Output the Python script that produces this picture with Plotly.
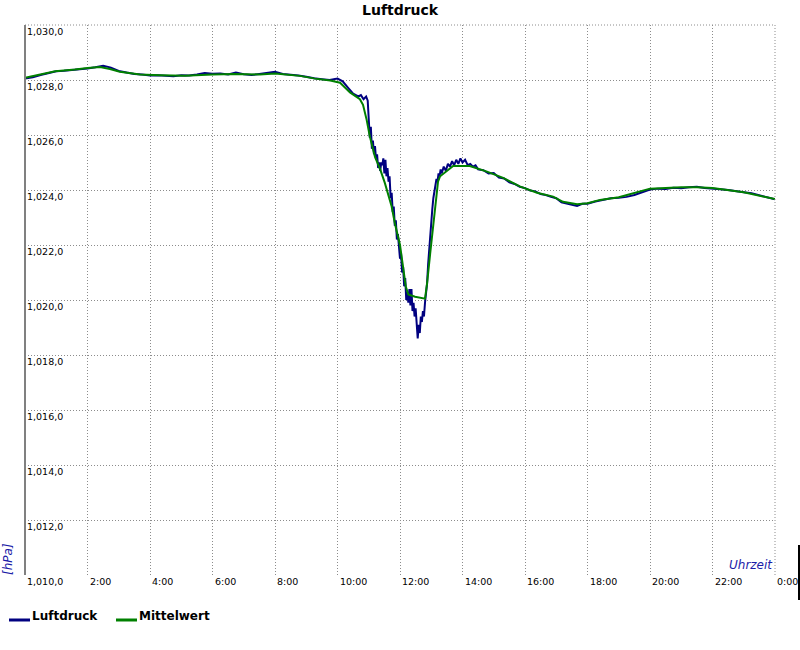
import plotly.graph_objects as go

# ---------------- data ----------------
luft_zeit = [
    "0:00", "0:15", "0:30", "0:45", "1:00", "1:15", "1:30", "1:45", "2:00", "2:15",
    "2:30", "2:45", "3:00", "3:15", "3:30", "3:45", "4:00", "4:15", "4:30", "4:45",
    "5:00", "5:15", "5:30", "5:45", "6:00", "6:15", "6:30", "6:45", "7:00", "7:15",
    "7:30", "7:45", "8:00", "8:15", "8:30", "8:45", "9:00", "9:15", "9:30", "9:45",
    "10:00", "10:10", "10:20", "10:30", "10:40", "10:45", "10:50", "10:55", "10:58",
    "11:00", "11:02", "11:04", "11:06", "11:08", "11:10", "11:12", "11:14", "11:16",
    "11:18", "11:20", "11:22", "11:24", "11:26", "11:28", "11:30", "11:32", "11:34",
    "11:36", "11:38", "11:40", "11:42", "11:44", "11:46", "11:48", "11:50", "11:52",
    "11:54", "11:56", "11:58", "12:00", "12:02", "12:04", "12:06", "12:08", "12:10",
    "12:12", "12:14", "12:16", "12:18", "12:20", "12:22", "12:24", "12:26", "12:28",
    "12:30", "12:32", "12:34", "12:36", "12:38", "12:40", "12:42", "12:44", "12:46",
    "12:48", "12:50", "12:52", "12:54", "12:56", "12:58", "13:00", "13:02", "13:04",
    "13:06", "13:08", "13:10", "13:12", "13:14", "13:16", "13:18", "13:20", "13:24",
    "13:28", "13:32", "13:36", "13:40", "13:44", "13:48", "13:52", "13:56", "14:00",
    "14:05", "14:10", "14:15", "14:20", "14:25", "14:30", "14:40", "14:50", "15:00",
    "15:10", "15:20", "15:30", "15:40", "15:50", "16:00", "16:10", "16:20", "16:30",
    "16:40", "16:50", "17:00", "17:10", "17:20", "17:30", "17:40", "17:50", "18:00",
    "18:15", "18:30", "18:45", "19:00", "19:15", "19:30", "19:45", "20:00", "20:15",
    "20:30", "20:45", "21:00", "21:15", "21:30", "21:45", "22:00", "22:15", "22:30",
    "22:45", "23:00", "23:15", "23:30", "23:45", "24:00",
]
luft_wert = [
    1028.05, 1028.10, 1028.18, 1028.26, 1028.32, 1028.34, 1028.36, 1028.38, 1028.42, 1028.46,
    1028.52, 1028.45, 1028.33, 1028.27, 1028.22, 1028.20, 1028.16, 1028.17, 1028.15, 1028.14,
    1028.17, 1028.16, 1028.20, 1028.25, 1028.23, 1028.24, 1028.20, 1028.27, 1028.21, 1028.18,
    1028.22, 1028.25, 1028.30, 1028.22, 1028.20, 1028.16, 1028.12, 1028.06, 1028.03, 1028.00,
    1028.05, 1027.95, 1027.72, 1027.50, 1027.40, 1027.45, 1027.30, 1027.40, 1027.25,
    1026.20, 1025.90, 1026.30, 1025.50, 1025.80, 1025.30, 1025.60, 1025.10, 1025.30,
    1024.80, 1025.00, 1024.70, 1025.00, 1024.90, 1025.15, 1024.60, 1025.10, 1024.50,
    1024.80, 1024.30, 1024.50, 1023.70, 1023.90, 1023.20, 1023.40, 1022.70, 1022.90,
    1022.20, 1022.40, 1021.80, 1021.50, 1021.70, 1021.00, 1021.20, 1020.50, 1020.80,
    1020.00, 1020.30, 1019.90, 1020.40, 1019.80, 1020.40, 1019.60, 1019.90, 1019.40,
    1019.70, 1019.00, 1018.60, 1019.10, 1018.80, 1019.40, 1019.20, 1019.60, 1019.40,
    1019.90, 1020.20, 1020.60, 1021.30, 1021.90, 1022.40, 1022.80, 1023.30, 1023.70,
    1024.00, 1024.20, 1024.40, 1024.30, 1024.60, 1024.50, 1024.75, 1024.60, 1024.85,
    1024.70, 1024.95, 1024.85, 1025.05, 1024.90, 1025.10, 1024.95, 1025.15, 1025.00,
    1025.10, 1024.90, 1024.95, 1024.85, 1024.90, 1024.75, 1024.72, 1024.60, 1024.62,
    1024.45, 1024.42, 1024.28, 1024.22, 1024.12, 1024.07, 1023.98, 1023.95, 1023.85,
    1023.82, 1023.75, 1023.70, 1023.55, 1023.50, 1023.45, 1023.42, 1023.50, 1023.50,
    1023.58, 1023.64, 1023.70, 1023.72, 1023.75, 1023.82, 1023.92, 1024.02, 1024.05,
    1024.04, 1024.08, 1024.06, 1024.10, 1024.12, 1024.07, 1024.06, 1024.03, 1024.00,
    1023.95, 1023.92, 1023.88, 1023.80, 1023.73, 1023.66,
]

mittel_zeit = [
    "0:00", "0:29", "0:58", "1:36", "2:00", "2:24", "2:43", "3:02", "3:41", "4:19",
    "5:07", "6:00", "6:43", "7:31", "8:00", "8:48", "9:17", "9:46", "10:05", "10:24",
    "10:43", "10:49", "10:56", "11:02", "11:12", "11:22", "11:31", "11:44", "11:50",
    "12:00", "12:06", "12:11", "12:16", "12:29", "12:48", "12:52", "12:58", "13:04",
    "13:09", "13:13", "13:17", "13:42", "14:14", "14:47", "15:18", "15:50", "16:23",
    "16:54", "17:13", "17:40", "18:00", "18:24", "19:00", "20:00", "21:00", "21:30",
    "22:00", "23:00", "24:00",
]
mittel_wert = [
    1028.08, 1028.20, 1028.32, 1028.38, 1028.44, 1028.47, 1028.40, 1028.30, 1028.20, 1028.17,
    1028.15, 1028.20, 1028.22, 1028.20, 1028.24, 1028.15, 1028.05, 1027.98, 1027.90, 1027.55,
    1027.30, 1027.10, 1026.55, 1025.95, 1025.20, 1024.75, 1024.25, 1023.40, 1022.80,
    1022.00, 1021.20, 1020.50, 1020.20, 1020.12, 1020.05, 1020.60, 1021.70, 1022.80,
    1023.60, 1024.30, 1024.50, 1024.87, 1024.87, 1024.67, 1024.44, 1024.13, 1023.90,
    1023.76, 1023.57, 1023.48, 1023.52, 1023.64, 1023.74, 1024.05, 1024.10, 1024.10,
    1024.07, 1023.92, 1023.67,
]

x_tick_werte = [2, 4, 6, 8, 10, 12, 14, 16, 18, 20, 22, 24]
x_tick_texte = ["2:00", "4:00", "6:00", "8:00", "10:00", "12:00", "14:00", "16:00",
                "18:00", "20:00", "22:00", "0:00"]
y_tick_werte = [1010, 1012, 1014, 1016, 1018, 1020, 1022, 1024, 1026, 1028, 1030]
y_tick_texte = ["1,010,0", "1,012,0", "1,014,0", "1,016,0", "1,018,0", "1,020,0",
                "1,022,0", "1,024,0", "1,026,0", "1,028,0", "1,030,0"]


def hrs(s):
    h, m = s.split(":")
    return int(h) + int(m) / 60.0


# ---------------- layout geometry (page body margin removed below) ----------------
W, H = 800, 650
L, R, T, B = 25, 25, 25, 75
PW, PH = W - L - R, H - T - B


def pxx(x):  # page pixel x -> paper
    return (x - L) / PW


def pyy(y):  # page pixel y -> paper
    return (H - B - y) / PH


FONT = "DejaVu Sans"
GRID = "#8c8c8c"

fig = go.Figure()
fig.add_trace(go.Scatter(
    x=[hrs(t) for t in luft_zeit], y=luft_wert, mode="lines", name="Luftdruck",
    line=dict(color="#000080", width=2), showlegend=False))
fig.add_trace(go.Scatter(
    x=[hrs(t) for t in mittel_zeit], y=mittel_wert, mode="lines", name="Mittelwert",
    line=dict(color="#008000", width=2), showlegend=False))

annotations = []
for v, t in zip(y_tick_werte, y_tick_texte):
    annotations.append(dict(x=0, xref="paper", y=v, yref="y", text=t, showarrow=False,
                            xanchor="left", yanchor="top", xshift=0, yshift=1,
                            font=dict(family=FONT, size=9.5, color="#000000")))
for v, t in zip(x_tick_werte, x_tick_texte):
    annotations.append(dict(x=v, xref="x", y=0, yref="paper", text=t, showarrow=False,
                            xanchor="left", yanchor="top", xshift=0, yshift=1,
                            font=dict(family=FONT, size=9.5, color="#000000")))

# title and axis titles
annotations.append(dict(x=0.5, xref="paper", y=pyy(0), yref="paper", text="<b>Luftdruck</b>",
                        showarrow=False, xanchor="center", yanchor="top",
                        font=dict(family=FONT, size=14, color="#000000")))
annotations.append(dict(x=pxx(8), xref="paper", y=pyy(559), yref="paper", text="<i>[hPa]</i>",
                        showarrow=False, xanchor="center", yanchor="middle", textangle=-90,
                        font=dict(family=FONT, size=12, color="#1c1ca8")))
annotations.append(dict(x=1, xref="paper", y=pyy(574), yref="paper", text="<i>Uhrzeit</i>",
                        showarrow=False, xanchor="right", yanchor="bottom",
                        font=dict(family=FONT, size=12, color="#1c1ca8")))

# legend (drawn manually to match the original placement)
legend_items = [("Luftdruck", "#000080", 9, 30), ("Mittelwert", "#008000", 116, 137)]
shapes = []
for name, col, x0, x1 in legend_items:
    shapes.append(dict(type="line", xref="paper", yref="paper", x0=pxx(x0), x1=pxx(x1),
                       y0=pyy(620), y1=pyy(620), line=dict(color=col, width=3)))
    annotations.append(dict(x=pxx(x1), xref="paper", y=pyy(616), yref="paper",
                            text="<b>" + name + "</b>", showarrow=False, xanchor="left",
                            yanchor="middle",
                            font=dict(family=FONT, size=12, color="#000000")))

# right border dotted, top dotted, left solid gray axis
shapes.append(dict(type="line", xref="paper", yref="paper", x0=1, x1=1, y0=0, y1=1,
                   line=dict(color=GRID, width=1, dash="1px,2px")))
shapes.append(dict(type="line", xref="paper", yref="paper", x0=0, x1=1, y0=1, y1=1,
                   line=dict(color=GRID, width=1, dash="1px,2px")))
shapes.append(dict(type="line", xref="paper", yref="paper", x0=0, x1=0, y0=0, y1=1,
                   line=dict(color="#808080", width=2)))
shapes.append(dict(type="line", xref="paper", yref="paper", x0=pxx(799), x1=pxx(799),
                   y0=pyy(545), y1=pyy(600), line=dict(color="#000000", width=2)))

fig.update_layout(
    width=W, height=H,
    margin=dict(l=L, r=R, t=T, b=B, pad=0),
    paper_bgcolor="#ffffff", plot_bgcolor="#ffffff",
    font=dict(family=FONT, size=10, color="#000000"),
    xaxis=dict(range=[0, 24], tickvals=x_tick_werte, showticklabels=False,
               showgrid=True, gridcolor=GRID, gridwidth=1, griddash="1px,2px",
               zeroline=False, showline=False, ticks=""),
    yaxis=dict(range=[1010, 1030], tickvals=y_tick_werte, showticklabels=False,
               showgrid=True, gridcolor=GRID, gridwidth=1, griddash="1px,2px",
               zeroline=False, showline=False, ticks=""),
    annotations=annotations,
    shapes=shapes,
    showlegend=False,
)

fig.write_html(
    "out.html",
    config={"displayModeBar": False},
    post_script="document.body.style.margin='0';document.body.style.overflow='hidden';",
)
